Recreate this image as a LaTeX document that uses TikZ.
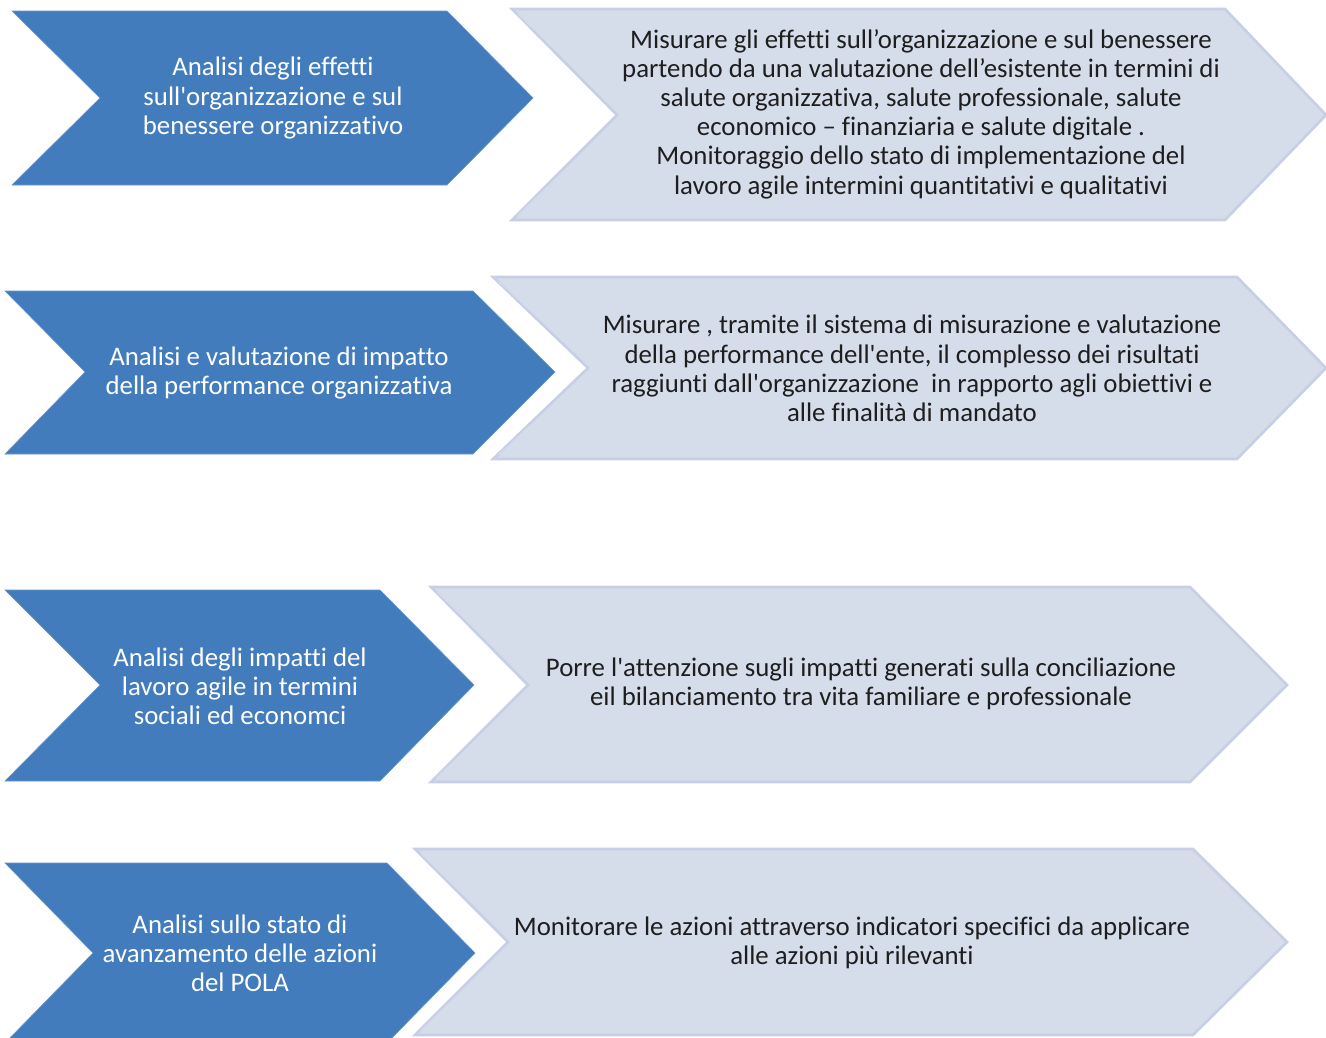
\documentclass[tikz,border=0pt]{standalone}
\usepackage{fontspec}
\setmainfont{Carlito}[Ligatures={TeXOff,NoCommon}]
\definecolor{darkfill}{HTML}{427CBD}
\definecolor{lightfill}{HTML}{D5DCEA}
\definecolor{lightedge}{HTML}{C6CFE4}
\definecolor{txtdark}{HTML}{1E1E1E}
\tikzset{
  darkchev/.style={fill=darkfill, draw=darkfill!80!white, line width=0.6pt},
  lightchev/.style={fill=lightfill, draw=lightedge, line width=2.6pt, line join=miter},
  darktext/.style={text=white, align=center, inner sep=0pt, font=\fontsize{26.8}{29.2}\selectfont},
  lighttext/.style={text=txtdark, align=center, inner sep=0pt, font=\fontsize{26.8}{29.2}\selectfont}
}
\begin{document}
\begin{tikzpicture}[x=1pt,y=-1pt]
\useasboundingbox (0,0) rectangle (1326,1037);
\clip (0,0) rectangle (1326,1037);
\fill[white] (0,0) rectangle (1326,1037);
% row 1
\path[darkchev] (12,11) -- (447,11) -- (533,98) -- (447,185) -- (12,185) -- (100,98) -- cycle;
\path[lightchev] (512,9) -- (1225,9) -- (1326,115) -- (1225,220) -- (512,220) -- (617,115) -- cycle;
\path[draw=lightedge!70!white, line width=0.6pt] (518,14) -- (1222,14) -- (1319,115) -- (1222,215) -- (518,215) -- (622,115) -- cycle;
\node[darktext] (d1) at (273,98) {Analisi degli effetti\\sull'organizzazione e sul\\benessere organizzativo};
\node[lighttext] (l1) at (921,114) {Misurare gli effetti sull’organizzazione e sul benessere\\partendo da una valutazione dell’esistente in termini di\\salute organizzativa, salute professionale, salute\\economico – finanziaria e salute digitale .\\Monitoraggio dello stato di implementazione del\\lavoro agile intermini quantitativi e qualitativi};
% row 2
\path[darkchev] (5,291) -- (473,291) -- (555,372) -- (473,454) -- (5,454) -- (85,372) -- cycle;
\path[lightchev] (493,277) -- (1237,277) -- (1326,368) -- (1237,459) -- (493,459) -- (588,368) -- cycle;
\path[draw=lightedge!70!white, line width=0.6pt] (499,282) -- (1234,282) -- (1319,368) -- (1234,454) -- (499,454) -- (593,368) -- cycle;
\node[darktext] (d2) at (279,373) {Analisi e valutazione di impatto\\della performance organizzativa};
\node[lighttext] (l2) at (912,368.5) {Misurare , tramite il sistema di misurazione e valutazione\\della performance dell'ente, il complesso dei risultati\\raggiunti dall'organizzazione\ \ in rapporto agli obiettivi e\\alle finalità di mandato};
% row 3
\path[darkchev] (5,590) -- (380,590) -- (474,685) -- (380,781) -- (5,781) -- (100,685) -- cycle;
\path[lightchev] (431,587) -- (1190,587) -- (1287,685) -- (1190,782) -- (431,782) -- (528,685) -- cycle;
\path[draw=lightedge!70!white, line width=0.6pt] (437,592) -- (1187,592) -- (1280,685) -- (1187,777) -- (437,777) -- (533,685) -- cycle;
\node[darktext] (d3) at (240,686) {Analisi degli impatti del\\lavoro agile in termini\\sociali ed economci};
\node[lighttext] (l3) at (861,684) {Porre l'attenzione sugli impatti generati sulla conciliazione\\eil bilanciamento tra vita familiare e professionale};
% row 4
\path[darkchev] (5,863) -- (387,863) -- (475,953) -- (387,1043) -- (5,1043) -- (93,953) -- cycle;
\path[lightchev] (415,849) -- (1193,849) -- (1287,942) -- (1193,1035) -- (415,1035) -- (508,942) -- cycle;
\path[draw=lightedge!70!white, line width=0.6pt] (421,854) -- (1190,854) -- (1280,942) -- (1190,1030) -- (421,1030) -- (513,942) -- cycle;
\node[darktext] (d4) at (240,953) {Analisi sullo stato di\\avanzamento delle azioni\\del POLA};
\node[lighttext] (l4) at (852,942.5) {Monitorare le azioni attraverso indicatori specifici da applicare\\alle azioni più rilevanti};
\end{tikzpicture}
\end{document}
